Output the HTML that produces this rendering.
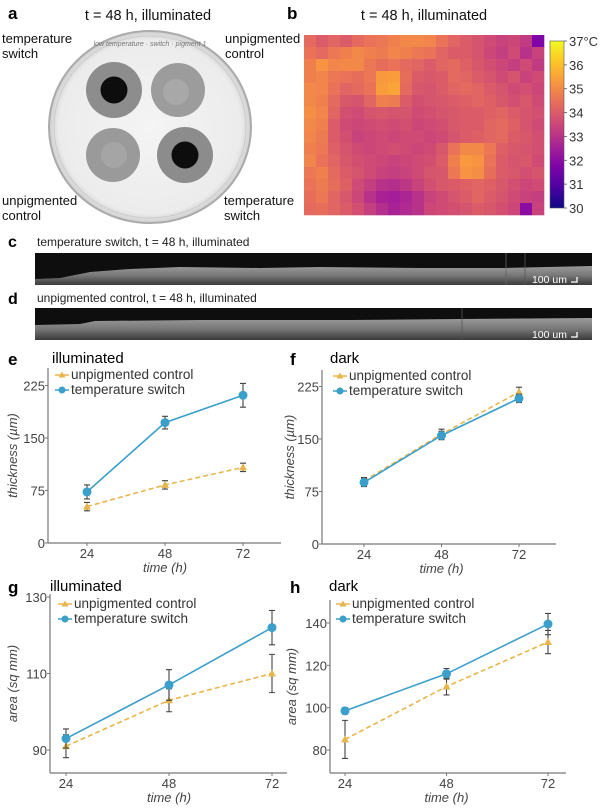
<!DOCTYPE html>
<html><head><meta charset="utf-8">
<style>
html,body{margin:0;padding:0;background:#fff;}
body{width:600px;height:808px;overflow:hidden;font-family:"Liberation Sans",sans-serif;}
svg{display:block;}
text{font-family:"Liberation Sans",sans-serif;}
</style></head>
<body>
<svg id="fig" width="600" height="808" viewBox="0 0 600 808">
  <defs>
    <linearGradient id="cbar" x1="0" y1="1" x2="0" y2="0">
      <stop offset="0" stop-color="#0d0887"/><stop offset="0.125" stop-color="#4c02a1"/>
      <stop offset="0.25" stop-color="#7e03a8"/><stop offset="0.375" stop-color="#a92395"/>
      <stop offset="0.5" stop-color="#cc4778"/><stop offset="0.625" stop-color="#e66c5c"/>
      <stop offset="0.75" stop-color="#f89540"/><stop offset="0.875" stop-color="#fdc527"/>
      <stop offset="1" stop-color="#f0f921"/>
    </linearGradient>
    <linearGradient id="oct" x1="0" y1="0" x2="0" y2="1">
      <stop offset="0" stop-color="#9a9a9a"/><stop offset="0.5" stop-color="#777"/><stop offset="1" stop-color="#3a3a3a"/>
    </linearGradient>
    <radialGradient id="dish" cx="0.5" cy="0.5" r="0.5">
      <stop offset="0" stop-color="#f4f4f4"/><stop offset="0.9" stop-color="#ececec"/><stop offset="1" stop-color="#d0d0d0"/>
    </radialGradient>
  </defs>

  <g>
    <text x="8" y="19" font-size="17" font-weight="bold">a</text>
    <text x="148" y="20" font-size="14.5" text-anchor="middle" fill="#111">t = 48 h, illuminated</text>
    <ellipse cx="150" cy="127" rx="101" ry="96" fill="url(#dish)" stroke="#aaa" stroke-width="2"/>
    <ellipse cx="150" cy="127" rx="96" ry="91" fill="none" stroke="#ccc" stroke-width="1"/>
    <text x="150" y="46" font-size="7" text-anchor="middle" fill="#777" font-style="italic">low temperature · switch · pigment 1</text>
    <g><circle cx="114" cy="90" r="28" fill="#8d8d8d"/><circle cx="114" cy="90" r="13.5" fill="#0d0d0d"/></g>
    <g><circle cx="178" cy="90" r="27" fill="#9c9c9c"/><circle cx="176" cy="92" r="13" fill="#a8a8a8"/></g>
    <g><circle cx="113" cy="155" r="27" fill="#9a9a9a"/><circle cx="114" cy="155" r="13" fill="#a5a5a5"/></g>
    <g><circle cx="185" cy="155" r="28" fill="#8c8c8c"/><circle cx="185" cy="155" r="13.5" fill="#0d0d0d"/></g>
    <g font-size="13" fill="#111">
      <text x="2" y="43">temperature</text>
      <text x="2" y="58">switch</text>
      <text x="225" y="43">unpigmented</text>
      <text x="225" y="58">control</text>
      <text x="2" y="205">unpigmented</text>
      <text x="2" y="220">control</text>
      <text x="224" y="205">temperature</text>
      <text x="224" y="220">switch</text>
    </g>
  </g>

  <g>
    <text x="287" y="19" font-size="17" font-weight="bold">b</text>
    <text x="424" y="20" font-size="14.5" text-anchor="middle" fill="#111">t = 48 h, illuminated</text>
    <g id="heatmap"></g>
    <rect x="550" y="41" width="14" height="167" fill="url(#cbar)" stroke="#555" stroke-width="0.6"/>
    <g id="cbticks"></g>
  </g>

  <g>
    <text x="8" y="247" font-size="16" font-weight="bold">c</text>
    <text x="37" y="246" font-size="12" fill="#222">temperature switch, t = 48 h, illuminated</text>
    <rect x="35" y="253" width="557" height="32" fill="#0e0e0e"/>
    <polygon points="35,279 60,278 90,272 130,269 180,267 260,268 320,267 420,268 505,268 592,266 592,285 35,285" fill="url(#oct)"/>
    <line x1="506" y1="253" x2="506" y2="285" stroke="#666" stroke-width="0.8"/>
    <line x1="525" y1="253" x2="525" y2="285" stroke="#555" stroke-width="0.8"/>
    <text x="567" y="283" font-size="10.5" fill="#fff" text-anchor="end">100 um</text>
    <path d="M571,282 H577 V277" stroke="#fff" stroke-width="1.3" fill="none"/>
  </g>

  <g>
    <text x="8" y="304" font-size="16" font-weight="bold">d</text>
    <text x="37" y="302" font-size="12" fill="#222">unpigmented control, t = 48 h, illuminated</text>
    <rect x="35" y="308" width="557" height="32" fill="#0e0e0e"/>
    <polygon points="35,325 80,324 95,321 200,320 350,320 460,319 592,318 592,340 35,340" fill="url(#oct)"/>
    <line x1="462" y1="308" x2="462" y2="340" stroke="#555" stroke-width="0.8"/>
    <text x="567" y="338" font-size="10.5" fill="#fff" text-anchor="end">100 um</text>
    <path d="M571,337 H577 V332" stroke="#fff" stroke-width="1.3" fill="none"/>
  </g>

  <g id="charts"></g>
</svg>

<script>
const heatRows = [
[34.3,34.0,34.2,34.0,34.3,34.5,34.6,34.8,35.0,35.0,34.9,34.5,34.2,34.0,33.8,33.6,33.4,33.5,33.2,31.8],
[34.5,34.3,34.6,34.8,35.0,34.8,34.7,34.9,34.8,34.6,34.5,34.2,34.0,34.0,33.8,33.5,33.3,33.6,33.0,33.4],
[34.8,35.2,34.9,35.0,35.0,34.6,34.4,34.5,34.3,34.2,34.0,34.2,34.3,34.1,33.9,33.7,33.5,33.3,33.6,33.2],
[34.8,34.9,34.6,34.5,34.4,34.6,35.3,35.4,34.4,34.0,33.9,34.0,34.3,34.2,34.0,33.8,33.6,33.8,33.4,33.6],
[35.0,34.9,34.5,34.2,34.3,34.5,35.4,35.5,34.3,33.9,33.8,34.0,34.2,34.3,34.2,34.0,33.8,33.6,33.7,33.5],
[35.0,34.8,34.3,33.9,33.8,34.2,34.8,34.7,34.0,33.7,33.8,33.9,34.0,34.1,34.2,34.1,33.9,33.7,33.9,33.6],
[35.1,34.9,34.2,33.7,33.6,33.8,33.9,33.8,33.8,33.6,33.7,33.8,33.9,34.0,34.0,34.1,34.2,34.0,33.8,33.7],
[35.0,34.8,34.0,33.6,33.5,33.6,33.7,33.6,33.7,33.5,33.6,33.7,33.9,34.0,34.0,34.2,34.3,34.1,33.8,33.6],
[34.9,34.7,34.0,33.7,33.4,33.5,33.6,33.5,33.6,33.6,33.5,33.6,33.8,34.0,34.1,34.2,34.3,34.0,33.9,33.7],
[34.8,34.6,34.1,33.8,33.6,33.5,33.6,33.7,33.6,33.5,33.6,33.9,34.5,35.0,35.0,34.6,34.1,33.9,33.8,33.7],
[34.9,34.5,34.2,33.9,33.7,33.6,33.5,33.4,33.5,33.6,33.7,34.0,34.8,35.3,35.2,34.5,34.0,33.8,33.9,33.6],
[34.6,34.8,34.3,34.0,33.8,33.6,33.4,33.3,33.4,33.6,33.8,33.9,34.6,35.2,35.1,34.4,34.0,33.9,33.7,33.8],
[34.5,34.7,34.4,34.1,33.6,33.3,33.0,32.9,33.1,33.4,33.7,33.9,34.0,34.1,34.2,34.1,33.9,33.7,33.5,33.6],
[34.4,34.6,34.2,33.9,33.5,33.0,32.6,32.5,32.7,33.0,33.4,33.6,33.8,34.0,34.2,34.0,33.8,33.6,33.4,33.3],
[34.3,34.4,34.2,34.0,33.7,33.3,32.9,32.6,32.8,33.0,33.5,33.6,33.7,33.8,34.0,33.9,33.7,33.5,32.0,33.4]
];
const cbTickLabels = ["37°C","36","35","34","33","32","31","30"];
const cbTickValues = [37,36,35,34,33,32,31,30];

const timeLabels = [24, 48, 72];
const eSwitch = [73, 172, 211];
const eSwitchErr = [10, 9, 17];
const eControl = [52, 83, 108];
const eControlErr = [6, 6, 6];
const fSwitch = [88, 155, 208];
const fSwitchErr = [6, 6, 6];
const fControl = [90, 157, 217];
const fControlErr = [5, 7, 7];
const gSwitch = [93, 107, 122];
const gSwitchErr = [2.5, 4, 4.5];
const gControl = [91, 103, 110];
const gControlErr = [3, 3, 5];
const hSwitch = [98.5, 116, 139.5];
const hSwitchErr = [1.5, 2.5, 5];
const hControl = [85, 110, 131];
const hControlErr = [9, 4, 5.5];
const thickTicks = [0, 75, 150, 225];
const gTicks = [90, 110, 130];
const hTicks = [80, 100, 120, 140];

const NS = "http://www.w3.org/2000/svg";
function mk(tag, attrs, parent) {
  const el = document.createElementNS(NS, tag);
  for (const k in attrs) el.setAttribute(k, attrs[k]);
  if (parent) parent.appendChild(el);
  return el;
}
function plasma(t) {
  const stops = [[13,8,135],[76,2,161],[126,3,168],[169,35,149],[204,71,120],[230,108,92],[248,149,64],[253,197,39],[240,249,33]];
  t = Math.max(0, Math.min(1, t)) * 8;
  const i = Math.min(7, Math.floor(t)), f = t - i;
  const a = stops[i], b = stops[i + 1];
  return "rgb(" + [0,1,2].map(j => Math.round(a[j] + (b[j] - a[j]) * f)).join(",") + ")";
}

(function () {
  const g = document.getElementById("heatmap");
  const x0 = 304, y0 = 35, W = 240, H = 180;
  const rows = heatRows.length, cols = heatRows[0].length;
  const cw = W / cols, ch = H / rows;
  const tmin = 30, tmax = 37;
  heatRows.forEach((row, r) => row.forEach((v, c) => {
    const cell = mk("rect", {x: x0 + c * cw, y: y0 + r * ch, width: cw + 0.3, height: ch + 0.3, fill: plasma((v - tmin) / (tmax - tmin))}, g);
    
    
  }));
  const tg = document.getElementById("cbticks");
  const cy = v => 208 - (v - tmin) / (tmax - tmin) * 167;
  cbTickValues.forEach((v, i) => {
    mk("line", {x1: 564, x2: 567, y1: cy(v), y2: cy(v), stroke: "#555", "stroke-width": 0.8}, tg);
    const t = mk("text", {x: 569, y: cy(v) + 5, "font-size": 13, fill: "#333"}, tg);
    t.textContent = cbTickLabels[i];
    
    
  });
})();

function drawChart(cfg) {
  const root = document.getElementById("charts");
  const g = mk("g", {}, root);
  
  
  const xs = i => cfg.xFirst + (cfg.xLast - cfg.xFirst) * (i / (timeLabels.length - 1));
  const ys = v => cfg.yA + (v - cfg.vA) * (cfg.yB - cfg.yA) / (cfg.vB - cfg.vA);

  const letter = mk("text", {x: cfg.letterX, y: cfg.titleY + 2, "font-size": 17, "font-weight": "bold", fill: "#000"}, g);
  letter.textContent = cfg.letter;
  
  
  const title = mk("text", {x: cfg.titleX, y: cfg.titleY, "font-size": 15, fill: "#000"}, g);
  title.textContent = cfg.title;
  
  

  const yax = mk("line", {x1: cfg.axX, x2: cfg.axX, y1: cfg.axTop, y2: cfg.axBot, stroke: "#777", "stroke-width": 1.2}, g);
  
  
  const xax = mk("line", {x1: cfg.axX, x2: cfg.axRight, y1: cfg.axBot, y2: cfg.axBot, stroke: "#777", "stroke-width": 1.2}, g);
  
  
  cfg.yTicks.forEach(v => {
    mk("line", {x1: cfg.axX - 3, x2: cfg.axX, y1: ys(v), y2: ys(v), stroke: "#777"}, g);
    const t = mk("text", {x: cfg.axX - 3, y: ys(v) + 5, "font-size": 13, fill: "#444", "text-anchor": "end"}, g);
    t.textContent = v;
    
    
  });
  timeLabels.forEach((lab, i) => {
    mk("line", {x1: xs(i), x2: xs(i), y1: cfg.axBot, y2: cfg.axBot + 3, stroke: "#777"}, g);
    const t = mk("text", {x: xs(i), y: cfg.axBot + 15, "font-size": 13, fill: "#444", "text-anchor": "middle"}, g);
    t.textContent = lab;
    
    
  });
  const xt = mk("text", {x: (cfg.xFirst + cfg.xLast) / 2, y: cfg.axBot + 29, "font-size": 13, fill: "#444", "text-anchor": "middle", "font-style": "italic"}, g);
  xt.textContent = "time (h)";
  
  
  const ymid = (cfg.axTop + cfg.axBot) / 2;
  const yt = mk("text", {x: cfg.yTitleX, y: ymid, "font-size": 13, fill: "#444", "text-anchor": "middle", "font-style": "italic", transform: "rotate(-90 " + cfg.yTitleX + " " + ymid + ")"}, g);
  yt.textContent = cfg.yTitle;
  
  

  function series(vals, errs, color, dashed, kind, nm) {
    const sg = mk("g", {}, g);
    
    
    const pts = vals.map((v, i) => xs(i) + "," + ys(v)).join(" ");
    const ln = mk("polyline", {points: pts, fill: "none", stroke: color, "stroke-width": 1.6, "stroke-dasharray": dashed ? "5,3" : "none"}, sg);
    
    
    vals.forEach((v, i) => {
      const x = xs(i), yl = ys(v - errs[i]), yh = ys(v + errs[i]);
      const eb = mk("path", {d: "M" + x + "," + yl + "V" + yh + "M" + (x - 3) + "," + yl + "h6M" + (x - 3) + "," + yh + "h6", stroke: "#444", "stroke-width": 1.1, fill: "none"}, sg);
      
      
      let m;
      if (kind === "circle") m = mk("circle", {cx: x, cy: ys(v), r: 4.5, fill: color}, sg);
      else { const y = ys(v); m = mk("polygon", {points: (x - 4) + "," + (y + 3) + " " + (x + 4) + "," + (y + 3) + " " + x + "," + (y - 4), fill: color}, sg); }
      
      
    });
  }
  series(cfg.control, cfg.controlErr, "#e8b54a", true, "tri", "series-unpigmented-control");
  series(cfg.sw, cfg.swErr, "#3b9fcb", false, "circle", "series-temperature-switch");

  const lg = mk("g", {}, g);
  
  
  const lx = cfg.legX, ly = cfg.legY;
  mk("line", {x1: lx, x2: lx + 14, y1: ly - 4, y2: ly - 4, stroke: "#e8b54a", "stroke-width": 1.5}, lg);
  mk("polygon", {points: (lx + 3.5) + "," + (ly - 1.5) + " " + (lx + 10.5) + "," + (ly - 1.5) + " " + (lx + 7) + "," + (ly - 7.5), fill: "#e8b54a"}, lg);
  const l1 = mk("text", {x: lx + 16, y: ly, "font-size": 13.5, fill: "#333"}, lg);
  l1.textContent = "unpigmented control";
  
  
  mk("line", {x1: lx, x2: lx + 14, y1: ly + 11, y2: ly + 11, stroke: "#3b9fcb", "stroke-width": 1.5}, lg);
  mk("circle", {cx: lx + 7, cy: ly + 11, r: 3.5, fill: "#3b9fcb"}, lg);
  const l2 = mk("text", {x: lx + 16, y: ly + 15, "font-size": 13.5, fill: "#333"}, lg);
  l2.textContent = "temperature switch";
  
  
}

drawChart({name: "chart-e-thickness-illuminated", letter: "e", title: "illuminated", letterX: 8, titleX: 52, titleY: 363,
  axX: 48, axRight: 281, axTop: 368, axBot: 543, xFirst: 87, xLast: 243,
  vA: 0, yA: 543, vB: 225, yB: 385.5, yTicks: thickTicks, yTitle: "thickness (µm)", yTitleX: 17,
  sw: eSwitch, swErr: eSwitchErr, control: eControl, controlErr: eControlErr, legX: 55, legY: 379});
drawChart({name: "chart-f-thickness-dark", letter: "f", title: "dark", letterX: 290, titleX: 330, titleY: 363,
  axX: 322, axRight: 556, axTop: 370, axBot: 544, xFirst: 364, xLast: 519,
  vA: 0, yA: 544, vB: 225, yB: 386.5, yTicks: thickTicks, yTitle: "thickness (µm)", yTitleX: 294,
  sw: fSwitch, swErr: fSwitchErr, control: fControl, controlErr: fControlErr, legX: 333, legY: 380});
drawChart({name: "chart-g-area-illuminated", letter: "g", title: "illuminated", letterX: 8, titleX: 50, titleY: 591,
  axX: 50, axRight: 287, axTop: 594, axBot: 773, xFirst: 66, xLast: 272,
  vA: 90, yA: 750, vB: 130, yB: 597, yTicks: gTicks, yTitle: "area (sq mm)", yTitleX: 17,
  sw: gSwitch, swErr: gSwitchErr, control: gControl, controlErr: gControlErr, legX: 58, legY: 608});
drawChart({name: "chart-h-area-dark", letter: "h", title: "dark", letterX: 290, titleX: 329, titleY: 591,
  axX: 330, axRight: 566, axTop: 600, axBot: 773, xFirst: 345, xLast: 548,
  vA: 80, yA: 750, vB: 140, yB: 623, yTicks: hTicks, yTitle: "area (sq mm)", yTitleX: 296,
  sw: hSwitch, swErr: hSwitchErr, control: hControl, controlErr: hControlErr, legX: 336, legY: 608});
</script>
</body></html>
